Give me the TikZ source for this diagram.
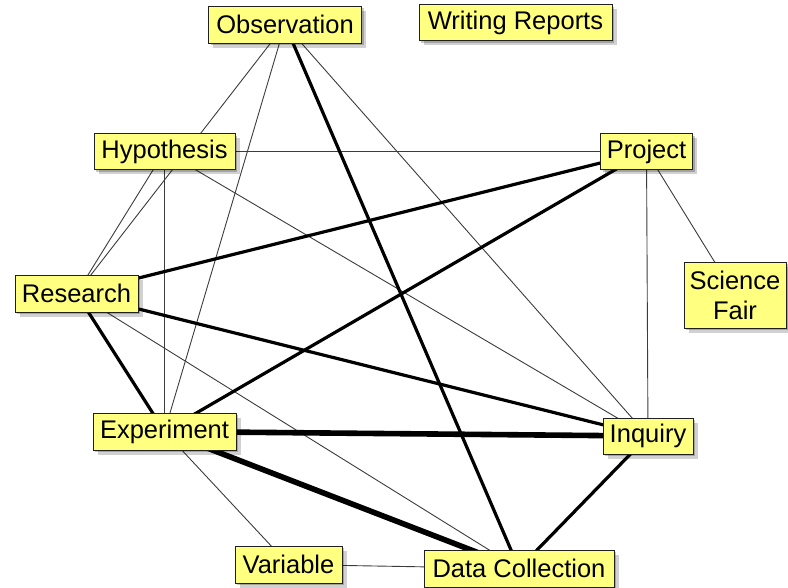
\documentclass[tikz,border=0pt]{standalone}
\usepackage{fontspec}
\setmainfont{Liberation Sans}
\usetikzlibrary{shadows,backgrounds}

\definecolor{boxfill}{RGB}{255,255,128}
\definecolor{boxline}{RGB}{32,32,32}
\definecolor{thinline}{RGB}{60,60,60}

\tikzset{
  term/.style={
    draw=boxline, line width=0.9pt, fill=boxfill, inner sep=0pt,
    font=\fontsize{25.5}{30}\selectfont, text=black, align=center,
    drop shadow={shadow xshift=2pt, shadow yshift=-2pt, fill=black, opacity=0.22},
    drop shadow={shadow xshift=4.5pt, shadow yshift=-4.5pt, fill=black, opacity=0.18}
  },
  weak/.style={draw=thinline, line width=0.9pt},
  strong/.style={draw=black, line width=3.2pt},
  heavy/.style={draw=black, line width=5.6pt},
}

\begin{document}
\begin{tikzpicture}[x=1pt, y=-1pt]
  \useasboundingbox (0,0) rectangle (788,587);

  % concept boxes
  \node[term, minimum width=153pt, minimum height=37pt] (obs)  at (285,24.5)   {Observation};
  \node[term, minimum width=193pt, minimum height=36pt] (wri)  at (515.5,22.5) {Writing Reports};
  \node[term, minimum width=141pt, minimum height=36pt] (hyp)  at (164.5,151.5) {Hypothesis};
  \node[term, minimum width=92pt,  minimum height=36pt] (proj) at (646.5,151.5) {Project};
  \node[term, minimum width=102pt, minimum height=66pt] (sci)  at (735,295)     {Science\\Fair};
  \node[term, minimum width=123pt, minimum height=37pt] (res)  at (76.5,293.5)  {Research};
  \node[term, minimum width=143pt, minimum height=37pt] (exp)  at (164.5,431.5) {Experiment};
  \node[term, minimum width=90pt,  minimum height=36pt] (inq)  at (648,436)     {Inquiry};
  \node[term, minimum width=107pt, minimum height=37pt] (var)  at (288.5,564.5) {Variable};
  \node[term, minimum width=190pt, minimum height=37pt] (dc)   at (519,568.5)   {Data Collection};

  % links between concepts
  \begin{scope}[on background layer]
    \draw[weak] (obs.center) -- (res.center);
    \draw[weak] (obs.center) -- (exp.center);
    \draw[weak] (obs.center) -- (inq.center);
    \draw[weak] (hyp.center) -- (res.center);
    \draw[weak] (hyp.center) -- (exp.center);
    \draw[weak] (hyp.center) -- (proj.center);
    \draw[weak] (hyp.center) -- (inq.center);
    \draw[weak] (proj.center) -- (inq.center);
    \draw[weak] (proj.center) -- (sci.center);
    \draw[weak] (res.center) -- (dc.center);
    \draw[weak] (exp.center) -- (var.center);
    \draw[weak] (var.center) -- (dc.center);

    \draw[strong] (obs.center) -- (dc.center);
    \draw[strong] (proj.center) -- (res.center);
    \draw[strong] (proj.center) -- (exp.center);
    \draw[strong] (res.center) -- (exp.center);
    \draw[strong] (res.center) -- (inq.center);
    \draw[strong] (dc.center) -- (inq.center);

    \draw[heavy] (exp.center) -- (inq.center);
    \draw[heavy] (exp.center) -- (dc.center);
  \end{scope}
\end{tikzpicture}
\end{document}
